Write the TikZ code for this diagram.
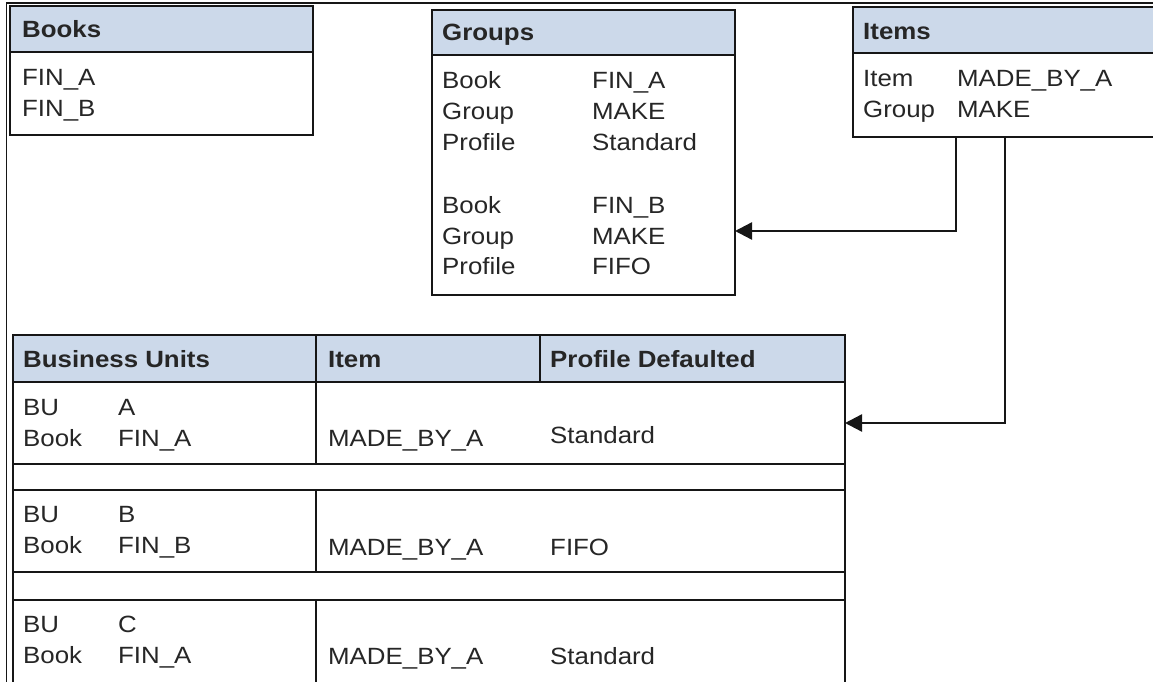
\documentclass[tikz,border=0pt]{standalone}
\usepackage{fontspec}
\setmainfont[FakeStretch=1.1]{Liberation Sans}
\usetikzlibrary{arrows.meta}
\definecolor{hdrblue}{RGB}{204,217,234}
\definecolor{edge}{RGB}{22,22,22}
\definecolor{ink}{RGB}{38,38,38}
\newcommand{\bodyfont}{\fontsize{23.5}{31}\selectfont}

\begin{document}
\begin{tikzpicture}[x=1pt,y=-1pt,
  hdr/.style={draw=edge,line width=2.4pt,fill=hdrblue,anchor=north west,
    inner sep=0pt,outer sep=0pt},
  cell/.style={draw=edge,line width=2.4pt,fill=white,anchor=north west,
    inner sep=0pt,outer sep=0pt},
  lbl/.style={anchor=base west,inner sep=0pt,text=ink,font=\bodyfont},
  ttl/.style={lbl,font=\bodyfont\bfseries},
  link/.style={draw=edge,line width=2.4pt,-{Triangle[length=17pt,width=17pt]}}]
\useasboundingbox (0,0) rectangle (1153,682);
\clip (0,0) rectangle (1153,682);
% page frame
\draw[edge,line width=1.6pt] (6.5,690) -- (6.5,3) -- (1160,3);
% Books
\node[hdr,minimum width=303pt,minimum height=46pt] (bookshd) at (10,6) {};
\node[cell,minimum width=303pt,minimum height=83pt] (booksbd) at (10,52) {};
\node[ttl] (bookstl) at (22,38) {Books};
\node[lbl] (bookstx) at (22,86) {\begin{tabular}[t]{@{}l@{}}FIN\_A\\FIN\_B\end{tabular}};
% Groups
\node[hdr,minimum width=303pt,minimum height=45pt] (groupshd) at (432,10) {};
\node[cell,minimum width=303pt,minimum height=240pt] (groupsbd) at (432,55) {};
\node[ttl] (groupstl) at (442,41) {Groups};
\node[lbl] (groupstx) at (442,89) {\begin{tabular}[t]{@{}p{150pt}@{}l@{}}
  Book & FIN\_A\\ Group & MAKE\\ Profile & Standard\\ & \\
  Book & FIN\_B\\ Group & MAKE\\ Profile & FIFO\end{tabular}};
% Items
\node[hdr,minimum width=320pt,minimum height=46pt] (itemshd) at (853,7) {};
\node[cell,minimum width=320pt,minimum height=84pt] (itemsbd) at (853,53) {};
\node[ttl] (itemstl) at (863,40) {Items};
\node[lbl] (itemstx) at (863,87) {\begin{tabular}[t]{@{}p{94pt}@{}l@{}}
  Item & MADE\_BY\_A\\ Group & MAKE\end{tabular}};
% Business units table
\node[hdr,minimum width=303pt,minimum height=47pt] (hbu) at (13,335) {};
\node[hdr,minimum width=224pt,minimum height=47pt] (hitem) at (316,335) {};
\node[hdr,minimum width=305pt,minimum height=47pt] (hprof) at (540,335) {};
\node[ttl] (hbutl) at (23,367) {Business Units};
\node[ttl] (hitemtl) at (328,367) {Item};
\node[ttl] (hproftl) at (550,367) {Profile Defaulted};
\node[cell,minimum width=303pt,minimum height=82pt] (bua) at (13,382) {};
\node[cell,minimum width=529pt,minimum height=82pt] (itema) at (316,382) {};
\node[cell,minimum width=832pt,minimum height=26pt] (gapa) at (13,464) {};
\node[cell,minimum width=303pt,minimum height=82pt] (bub) at (13,490) {};
\node[cell,minimum width=529pt,minimum height=82pt] (itemb) at (316,490) {};
\node[cell,minimum width=832pt,minimum height=28pt] (gapb) at (13,572) {};
\node[cell,minimum width=303pt,minimum height=100pt] (buc) at (13,600) {};
\node[cell,minimum width=529pt,minimum height=100pt] (itemc) at (316,600) {};
% row texts
\node[lbl] (butxa) at (23,415) {\begin{tabular}[t]{@{}p{95pt}@{}l@{}}
  BU & A\\ Book & FIN\_A\end{tabular}};
\node[lbl] (itemtxa) at (328,446) {MADE\_BY\_A};
\node[lbl] (proftxa) at (550,443) {Standard};
\node[lbl] (butxb) at (23,522) {\begin{tabular}[t]{@{}p{95pt}@{}l@{}}
  BU & B\\ Book & FIN\_B\end{tabular}};
\node[lbl] (itemtxb) at (328,555) {MADE\_BY\_A};
\node[lbl] (proftxb) at (550,555) {FIFO};
\node[lbl] (butxc) at (23,632) {\begin{tabular}[t]{@{}p{95pt}@{}l@{}}
  BU & C\\ Book & FIN\_A\end{tabular}};
\node[lbl] (itemtxc) at (328,664) {MADE\_BY\_A};
\node[lbl] (proftxc) at (550,664) {Standard};
% connectors
\draw[link] ([xshift=103pt]itemsbd.south west) |- ([yshift=-56pt]groupsbd.east);
\draw[link] ([xshift=152pt]itemsbd.south west) |- (itema.east);
\end{tikzpicture}
\end{document}
